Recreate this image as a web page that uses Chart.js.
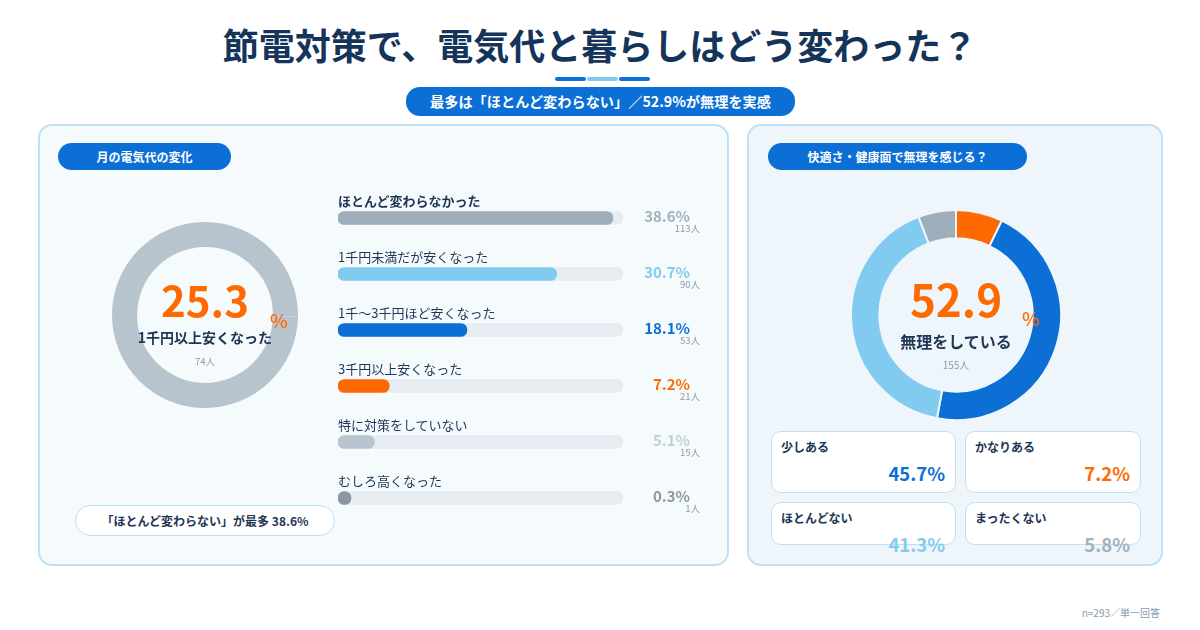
<!DOCTYPE html>
<html lang="ja">
<head>
<meta charset="utf-8">
<script src="https://cdn.jsdelivr.net/npm/chart.js@4"></script>
<style>
  html,body{margin:0;padding:0;background:#fff;}
  body{width:1200px;height:630px;position:relative;overflow:hidden;font-family:"Noto Sans CJK JP","Noto Sans",sans-serif;color:#15345a;}
  .abs{position:absolute;}
  .title{left:0;width:1200px;top:18px;text-align:center;font-size:36px;font-weight:700;line-height:52px;color:#15345a;letter-spacing:0px;}
  .deco{top:77px;height:4px;border-radius:2px;}
  .pill{background:#0c6fd5;color:#fff;font-weight:700;text-align:center;border-radius:14px;}
  .panel{border:2px solid #bfe0f5;border-radius:14px;box-sizing:border-box;}
  .blabel{font-size:13px;line-height:16px;color:#1e3555;white-space:nowrap;}
  .bpct{font-size:15px;font-weight:700;line-height:18px;text-align:right;width:80px;}
  .bcnt{font-size:9.5px;line-height:11px;color:#8b9aab;text-align:right;width:60px;}
  .card{background:#fff;border:1px solid #bfe0f5;border-radius:10px;box-sizing:border-box;}
  .clabel{font-size:12px;font-weight:700;line-height:14px;color:#1e3555;}
  .cval{font-size:18.5px;font-weight:700;line-height:22px;text-align:right;width:120px;}
</style>
</head>
<body>
<div class="abs title">節電対策で、電気代と暮らしはどう変わった？</div>
<div class="abs deco" style="left:555px;width:31px;background:#0c6fd5"></div>
<div class="abs deco" style="left:587px;width:31px;background:#82cbf0"></div>
<div class="abs deco" style="left:619px;width:31px;background:#0c6fd5"></div>
<div class="abs pill" style="left:406px;top:87px;width:389px;height:29px;line-height:29px;font-size:14.2px;">最多は「ほとんど変わらない」／52.9%が無理を実感</div>

<div class="abs panel" style="left:38px;top:124px;width:691px;height:442px;background:#f5fafd;"></div>
<div class="abs panel" style="left:747px;top:124px;width:416px;height:442px;background:#eef6fc;"></div>

<div class="abs pill" style="left:58px;top:143px;width:173px;height:27px;line-height:27px;font-size:12px;">月の電気代の変化</div>
<div class="abs pill" style="left:768px;top:143px;width:259px;height:27px;line-height:27px;font-size:12px;">快適さ・健康面で無理を感じる？</div>

<div class="abs" style="left:112px;top:222px;width:186px;height:186px;"><canvas id="leftDonut"></canvas></div>
<div class="abs" style="left:850px;top:209px;width:212px;height:212px;"><canvas id="rightDonut"></canvas></div>
<div class="abs" style="left:338px;top:190px;width:285px;height:336px;"><canvas id="bars"></canvas></div>

<div id="overlay"></div>

<div class="abs" style="left:75px;top:505px;width:260px;height:31px;background:#fff;border:1px solid #bfe0f5;border-radius:16px;box-sizing:border-box;text-align:center;line-height:29px;font-size:12px;font-weight:700;color:#1e3555;" id="bestPill"></div>

<div class="abs" style="right:40px;top:606px;font-size:10px;line-height:14px;color:#8a9bb0;">n=293／単一回答</div>

<script>
// ---- data ----
const barLabels = ["ほとんど変わらなかった","1千円未満だが安くなった","1千〜3千円ほど安くなった","3千円以上安くなった","特に対策をしていない","むしろ高くなった"];
const barValues = [38.6, 30.7, 18.1, 7.2, 5.1, 0.3];
const barCounts = [113, 90, 53, 21, 15, 1];
const barColors = ["#9dadba","#82cbf0","#0c6fd5","#ff6a00","#b8c4cf","#8b96a0"];
const barTextColors = ["#a3b1bd","#82cbf0","#0c6fd5","#ff6a00","#c3cdd7","#8b97a3"];
const barAxisMax = 40;

const leftDonutValues = [25.3, 74.7];
const leftDonutColors = ["#b7c3cd","#b7c3cd"];
const leftHeadline = "25.3";
const leftCaption = "1千円以上安くなった";
const leftCount = 74;

const rightLabels = ["かなりある","少しある","ほとんどない","まったくない"];
const rightValues = [7.2, 45.7, 41.3, 5.8];
const rightColors = ["#ff6a00","#0c6fd5","#82cbf0","#9dadba"];
const rightHeadline = "52.9";
const rightCaption = "無理をしている";
const rightCount = 155;

const cardLabels = ["少しある","かなりある","ほとんどない","まったくない"];
const cardValues = [45.7, 7.2, 41.3, 5.8];
const cardColors = ["#0c6fd5","#ff6a00","#82cbf0","#a3b1bd"];

// ---- charts ----
Chart.defaults.font.family = '"Noto Sans CJK JP","Noto Sans",sans-serif';
const noUi = {legend:{display:false},tooltip:{enabled:false}};

new Chart(document.getElementById('leftDonut'), {
  type:'doughnut',
  data:{labels:["1千円以上安くなった","その他"],datasets:[{data:leftDonutValues,backgroundColor:leftDonutColors,borderWidth:0}]},
  options:{responsive:true,maintainAspectRatio:false,animation:false,cutout:'73%',plugins:noUi,layout:{padding:0}}
});

new Chart(document.getElementById('rightDonut'), {
  type:'doughnut',
  data:{labels:rightLabels,datasets:[{data:rightValues,backgroundColor:rightColors,borderColor:'#eef6fc',borderWidth:2}]},
  options:{responsive:true,maintainAspectRatio:false,animation:false,cutout:'73%',plugins:noUi,layout:{padding:0}}
});

new Chart(document.getElementById('bars'), {
  type:'bar',
  data:{labels:barLabels,datasets:[
    {data:barValues,backgroundColor:barColors,borderRadius:7,borderSkipped:false,barThickness:13,grouped:false,minBarLength:13,order:0},
    {data:barLabels.map(()=>barAxisMax),backgroundColor:'#e7ecf3',borderRadius:7,borderSkipped:false,barThickness:13,grouped:false,order:1}
  ]},
  options:{indexAxis:'y',responsive:true,maintainAspectRatio:false,animation:false,plugins:noUi,layout:{padding:0},
    scales:{x:{display:false,min:0,max:barAxisMax},y:{display:false}}}
});

// ---- text overlays built from data ----
const ov = document.getElementById('overlay');
function add(html, style, cls){const d=document.createElement('div');d.className='abs '+(cls||'');d.style.cssText=style;d.innerHTML=html;ov.appendChild(d);return d;}

barLabels.forEach((lab,i)=>{
  const cy = 218 + 56*i;
  add(lab, `left:338px;top:${cy-25}px;${i===0?'font-weight:700;':''}`, 'blabel');
  add(barValues[i].toFixed(1)+'%', `left:610px;top:${cy-11}px;color:${barTextColors[i]};`, 'bpct');
  add(barCounts[i]+'人', `left:640px;top:${cy+5}px;`, 'bcnt');
});

// left donut center
add(leftHeadline, 'left:105px;width:200px;top:272px;text-align:center;font-size:42px;font-weight:700;line-height:54px;color:#ff6a00;');
add('%', 'left:270px;top:309px;font-size:19px;font-weight:500;line-height:22px;color:#ff6a00;');
add(leftCaption, 'left:105px;width:200px;top:328px;text-align:center;font-size:14px;font-weight:700;line-height:18px;color:#1e3555;');
add(leftCount+'人', 'left:155px;width:100px;top:355px;text-align:center;font-size:9.5px;line-height:12px;color:#8b9aab;');

// right donut center
add(rightHeadline, 'left:856px;width:200px;top:270px;text-align:center;font-size:44px;font-weight:700;line-height:56px;color:#ff6a00;');
add('%', 'left:1022px;top:307px;font-size:19px;font-weight:500;line-height:22px;color:#ff6a00;');
add(rightCaption, 'left:856px;width:200px;top:331px;text-align:center;font-size:16px;font-weight:700;line-height:20px;color:#1e3555;');
add(rightCount+'人', 'left:906px;width:100px;top:359px;text-align:center;font-size:10px;line-height:12px;color:#8b9aab;');

// cards
const cardBoxes = [[771,431,185,62],[965,431,176,62],[771,502,185,43],[965,502,176,43]];
cardLabels.forEach((lab,i)=>{
  const [x,y,w,h] = cardBoxes[i];
  add('', `left:${x}px;top:${y}px;width:${w}px;height:${h}px;`, 'card');
  add(lab, `left:${x+10}px;top:${y+9}px;`, 'clabel');
  add(cardValues[i].toFixed(1)+'%', `left:${x+w-131}px;top:${y+31}px;color:${cardColors[i]};`, 'cval');
});

const maxIdx = barValues.indexOf(Math.max(...barValues));
document.getElementById('bestPill').textContent = '「ほとんど変わらない」が最多 ' + barValues[maxIdx].toFixed(1) + '%';
</script>
</body>
</html>
